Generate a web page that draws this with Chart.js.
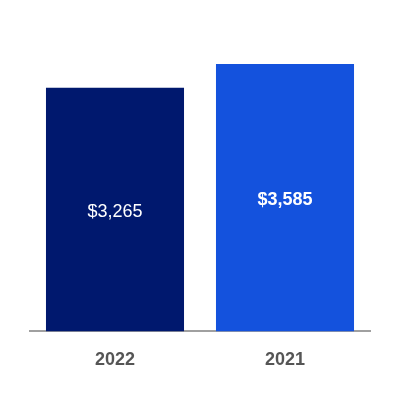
<!DOCTYPE html>
<html>
<head>
<meta charset="utf-8">
<script src="https://cdn.jsdelivr.net/npm/chart.js@4"></script>
<style>
  html, body { margin: 0; padding: 0; background: #fff; }
  #wrap { width: 400px; height: 400px; }
</style>
</head>
<body>
<div id="wrap"><canvas id="myChart"></canvas></div>
<script>
const years = ['2022', '2021'];
const values = [3265, 3585];
const valueLabels = ['$3,265', '$3,585'];
const barColors = ['#00186e', '#1452dd'];

// texto no meio de cada barra
const labelsInside = {
  id: 'labelsInside',
  afterDatasetsDraw(chart) {
    const c = chart.ctx;
    const meta = chart.getDatasetMeta(0);
    c.save();
    c.fillStyle = '#fff';
    c.textAlign = 'center';
    c.textBaseline = 'middle';
    meta.data.forEach((bar, i) => {
      c.font = (i === 1 ? 'bold ' : '') + '18px "Liberation Sans", Arial, sans-serif';
      c.fillText(valueLabels[i], bar.x, (bar.y + bar.base) / 2 + 2);
    });
    c.restore();
  }
};

new Chart(document.getElementById('myChart'), {
  type: 'bar',
  data: {
    labels: years,
    datasets: [{
      data: values,
      backgroundColor: barColors,
      barPercentage: 0.812,
      categoryPercentage: 1
    }]
  },
  options: {
    responsive: true,
    maintainAspectRatio: false,
    animation: false,
    layout: { padding: { top: 33, left: 30, right: 30, bottom: 11 } },
    plugins: { legend: { display: false }, tooltip: { enabled: false } },
    scales: {
      y: { display: false, min: 0, max: 4000 },
      x: {
        grid: { display: false, drawTicks: false },
        border: { display: true, color: '#a0a0a0', width: 2 },
        ticks: {
          padding: 18,
          color: '#555',
          font: { family: '"Liberation Sans", Arial, sans-serif', size: 18, weight: 'bold' }
        }
      }
    }
  },
  plugins: [labelsInside]
});
</script>
</body>
</html>
